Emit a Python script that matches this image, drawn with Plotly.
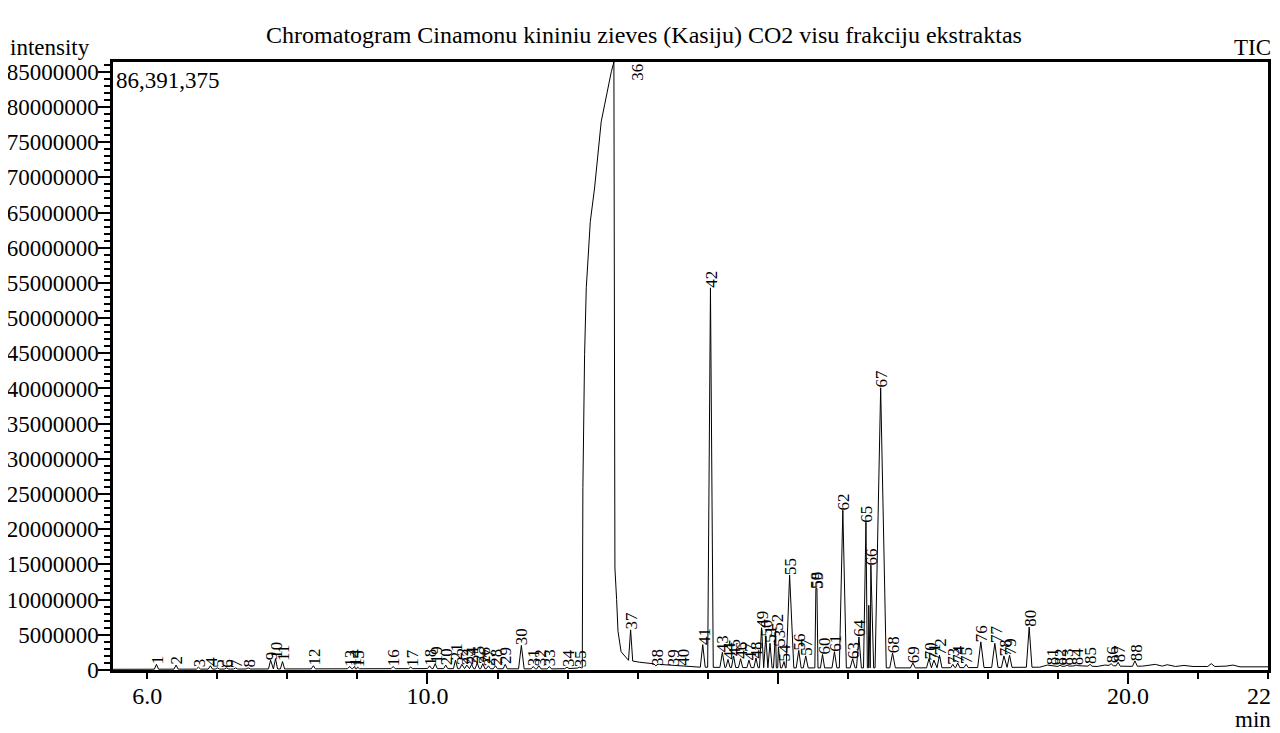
import numpy as np
import plotly.graph_objects as go

TITLE = "Chromatogram Cinamonu kininiu zieves (Kasiju) CO2 visu frakciju ekstraktas"
MAX_INTENSITY = 86391375

# ---- peak table (label, retention time [min], apex intensity, half width [min]) ----
peak_label = [
    "1", "2", "3", "4", "5", "6", "7", "8", "9", "10",
    "11", "12", "13", "14", "15", "16", "17", "18", "19", "20",
    "21", "22", "23", "24", "25", "26", "27", "28", "29", "30",
    "31", "32", "33", "34", "35", "36", "37", "38", "39", "40",
    "41", "42", "43", "44", "45", "46", "47", "48", "49", "50",
    "51", "52", "53", "54", "55", "56", "57", "58", "59", "60",
    "61", "62", "63", "64", "65", "", "66", "67", "68", "69", "70",
    "71", "72", "73", "74", "75", "76", "77", "78", "79", "80",
    "81", "82", "83", "84", "85", "86", "87", "88",
]
peak_rt = [
    6.13, 6.41, 6.73, 6.90, 7.00, 7.13, 7.26, 7.44, 7.76, 7.83,
    7.93, 8.37, 8.89, 8.96, 9.00, 9.51, 9.76, 10.03, 10.11, 10.26,
    10.40, 10.49, 10.56, 10.63, 10.71, 10.79, 10.87, 10.97, 11.11, 11.34,
    11.51, 11.59, 11.74, 11.99, 12.17, 12.661, 12.90, 13.26, 13.49, 13.64,
    13.93, 14.04, 14.21, 14.29, 14.37, 14.47, 14.59, 14.69, 14.77, 14.83,
    14.89, 14.97, 15.01, 15.09, 15.17, 15.30, 15.40, 15.545, 15.56, 15.64,
    15.81, 15.93, 16.07, 16.16, 16.26, 16.30, 16.33, 16.47, 16.64, 16.93, 17.16,
    17.23, 17.31, 17.50, 17.57, 17.69, 17.90, 18.10, 18.23, 18.31, 18.59,
    18.91, 19.03, 19.13, 19.26, 19.46, 19.76, 19.86, 20.10,
]
peak_height = [
    0.8e6, 0.7e6, 0.4e6, 0.6e6, 0.3e6, 0.3e6, 0.3e6, 0.3e6, 1.4e6, 1.6e6,
    1.2e6, 0.6e6, 0.5e6, 0.5e6, 0.4e6, 0.5e6, 0.4e6, 0.6e6, 0.9e6, 0.7e6,
    1.4e6, 0.8e6, 0.7e6, 0.8e6, 1.0e6, 0.9e6, 0.6e6, 0.6e6, 0.8e6, 3.5e6,
    0.5e6, 0.6e6, 0.5e6, 0.4e6, 0.4e6, 86391375, 5.7e6, 0.6e6, 0.6e6, 0.6e6,
    3.6e6, 54.3e6, 2.5e6, 1.5e6, 2.0e6, 1.6e6, 1.4e6, 1.7e6, 6.0e6, 4.8e6,
    3.8e6, 5.6e6, 3.3e6, 1.2e6, 13.5e6, 2.8e6, 2.0e6, 11.6e6, 11.6e6, 2.2e6,
    2.6e6, 22.7e6, 1.6e6, 4.7e6, 21.0e6, 9.2e6, 14.9e6, 40.1e6, 2.4e6, 1.0e6, 1.6e6,
    1.4e6, 2.1e6, 0.8e6, 1.0e6, 0.8e6, 4.0e6, 3.8e6, 2.0e6, 2.1e6, 6.1e6,
    0.7e6, 0.7e6, 0.7e6, 0.7e6, 0.8e6, 0.9e6, 1.1e6, 1.3e6,
]
peak_halfwidth = [
    0.03, 0.03, 0.03, 0.03, 0.03, 0.03, 0.03, 0.03, 0.03, 0.03,
    0.03, 0.03, 0.03, 0.03, 0.03, 0.03, 0.03, 0.03, 0.03, 0.03,
    0.03, 0.03, 0.03, 0.03, 0.03, 0.03, 0.03, 0.03, 0.03, 0.04,
    0.03, 0.03, 0.03, 0.03, 0.03, 0.0, 0.03, 0.03, 0.03, 0.03,
    0.035, 0.04, 0.035, 0.03, 0.03, 0.03, 0.03, 0.03, 0.03, 0.03,
    0.03, 0.03, 0.03, 0.03, 0.06, 0.035, 0.035, 0.03, 0.03, 0.03,
    0.035, 0.05, 0.035, 0.035, 0.035, 0.02, 0.04, 0.08, 0.04, 0.035, 0.035,
    0.035, 0.035, 0.03, 0.03, 0.03, 0.045, 0.045, 0.035, 0.035, 0.04,
    0.03, 0.03, 0.03, 0.03, 0.03, 0.03, 0.03, 0.035,
]

# ---- background signal incl. the main (overloaded) peak 36 profile ----
bg_rt = [
    5.51, 8.0, 10.0, 11.89, 12.210,
    12.2186, 12.2429, 12.2671, 12.3243, 12.3857, 12.4329, 12.48, 12.5286,
    12.5757, 12.6243, 12.6614, 12.671, 12.676, 12.70, 12.72, 12.764, 12.857,
    13.03, 13.31, 13.89, 15.0, 17.0, 18.74, 18.85, 18.99, 19.30, 19.56,
    19.67, 19.95, 20.21, 20.39, 20.49, 20.56, 20.68, 20.80, 20.93, 21.06,
    21.14, 21.19, 21.24, 21.40, 21.50, 21.60, 21.80, 22.0,
]
bg_int = [
    0.1e6, 0.15e6, 0.2e6, 0.15e6, 0.3e6,
    25.9e6, 44.8e6, 54.3e6, 63.7e6, 68.5e6, 73.2e6, 77.9e6, 80.3e6,
    82.7e6, 85.0e6, 86391375, 50e6, 14.5e6, 10e6, 5.5e6, 2.6e6, 1.4e6,
    1.1e6, 0.8e6, 0.4e6, 0.3e6, 0.3e6, 0.4e6, 0.7e6, 0.5e6, 0.6e6, 0.5e6,
    0.7e6, 0.5e6, 0.55e6, 0.8e6, 0.55e6, 0.75e6, 0.5e6, 0.65e6, 0.5e6, 0.55e6,
    0.5e6, 0.9e6, 0.5e6, 0.55e6, 0.7e6, 0.45e6, 0.5e6, 0.45e6,
]

# ---- assemble the trace from the tables ----
pts = []
intervals = []
for lab, rt, h, hw in zip(peak_label, peak_rt, peak_height, peak_halfwidth):
    if hw <= 0:
        continue
    lo, hi = rt - hw, rt + hw
    intervals.append((lo, hi))
    pts.append((lo, float(np.interp(lo, bg_rt, bg_int))))
    pts.append((rt, h))
    pts.append((hi, float(np.interp(hi, bg_rt, bg_int))))
for t, v in zip(bg_rt, bg_int):
    if not any(lo < t < hi for lo, hi in intervals):
        pts.append((t, v))
pts.sort(key=lambda p: p[0])
trace_rt = [p[0] for p in pts]
trace_int = [p[1] for p in pts]

FONT = "Liberation Serif"
fig = go.Figure()
fig.add_trace(go.Scatter(x=trace_rt, y=trace_int, mode="lines",
                         line=dict(color="black", width=1), showlegend=False,
                         hoverinfo="skip"))
# helper (empty) trace so the long-tick axis is drawn
fig.add_trace(go.Scatter(x=[], y=[], xaxis="x2", showlegend=False))

annotations = []
for lab, rt, h in zip(peak_label, peak_rt, peak_height):
    if not lab:
        continue
    if h >= MAX_INTENSITY:
        annotations.append(dict(x=rt, y=h, text=lab, textangle=-90, showarrow=False,
                                xanchor="left", yanchor="top", xshift=12, yshift=0,
                                font=dict(family=FONT, size=17, color="black")))
    else:
        annotations.append(dict(x=rt, y=h, text=lab, textangle=-90, showarrow=False,
                                xanchor="center", yanchor="bottom", xshift=1, yshift=-2,
                                font=dict(family=FONT, size=17, color="black")))

txt = dict(family=FONT, size=23, color="black")
annotations += [
    dict(xref="paper", yref="paper", x=-0.0909, y=1.024, text="intensity", showarrow=False,
         xanchor="left", yanchor="middle", font=txt),
    dict(xref="paper", yref="paper", x=1.004, y=1.024, text="TIC", showarrow=False,
         xanchor="right", yanchor="middle", font=txt),
    dict(xref="paper", yref="paper", x=0.987, y=-0.082, text="min", showarrow=False,
         xanchor="center", yanchor="middle", font=txt),
    dict(xref="paper", yref="paper", x=0.001, y=0.970, text=f"{MAX_INTENSITY:,}", showarrow=False,
         xanchor="left", yanchor="middle", font=txt),
]

XR = [5.51, 22.0]
fig.update_layout(
    width=1272, height=725,
    margin=dict(l=105, r=12, t=54, b=63, autoexpand=False),
    paper_bgcolor="white", plot_bgcolor="white",
    title=dict(text=TITLE, x=0.5, xanchor="center", y=0.964, yanchor="middle",
               font=dict(family=FONT, size=24, color="black")),
    xaxis=dict(range=XR, tickmode="array", tickvals=[6, 10, 20, 22],
               ticktext=["6.0", "10.0", "20.0", "22.0"],
               ticks="outside", ticklen=6, tickwidth=2, tickcolor="black",
               minor=dict(tickmode="linear", tick0=0, dtick=1, ticks="outside",
                          ticklen=6, tickwidth=2, tickcolor="black"),
               ticklabelstandoff=-4, ticklabeloverflow="allow", automargin=False,
               showline=True, linewidth=2.5, linecolor="black", mirror=True,
               showgrid=False, zeroline=False,
               tickfont=dict(family=FONT, size=24, color="black")),
    xaxis2=dict(range=XR, overlaying="x", anchor="y", side="bottom",
                tickmode="array", tickvals=[10, 15, 20], ticks="outside",
                ticklen=13, tickwidth=2, tickcolor="black", showticklabels=False,
                showline=False, showgrid=False, zeroline=False, automargin=False),
    yaxis=dict(range=[0, MAX_INTENSITY], tickmode="linear", tick0=0, dtick=5000000,
               tickformat="d", ticks="outside", ticklen=12, tickwidth=2, tickcolor="black",
               minor=dict(tickmode="linear", tick0=0, dtick=1000000, ticks="outside",
                          ticklen=6, tickwidth=2, tickcolor="black"),
               ticklabelstandoff=-5, automargin=False,
               showline=True, linewidth=2.5, linecolor="black", mirror=True,
               showgrid=False, zeroline=False,
               tickfont=dict(family=FONT, size=23, color="black")),
    annotations=annotations,
)

fig.write_html("out.html")
